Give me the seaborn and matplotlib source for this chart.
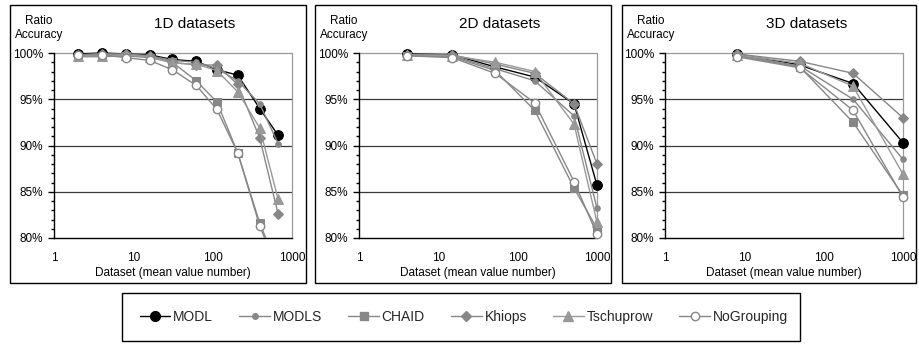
import matplotlib
matplotlib.use("Agg")
import matplotlib.pyplot as plt
import seaborn as sns
import pandas as pd
from matplotlib.patches import Rectangle
from matplotlib.lines import Line2D
from matplotlib.ticker import FixedLocator, MultipleLocator, FuncFormatter, NullLocator
from matplotlib.transforms import Bbox, TransformedBbox

sns.set_theme(style="white")
plt.rcParams["font.family"] = ["Liberation Sans", "DejaVu Sans"]

# ---------------- data ----------------
methods = ["MODL", "MODLS", "CHAID", "Khiops", "Tschuprow", "NoGrouping"]
panel_titles = ["1D datasets", "2D datasets", "3D datasets"]

x_1d = [2, 4, 8, 16, 31, 62, 113, 207, 392, 668]
modl_1d = [99.9, 100.0, 99.9, 99.8, 99.3, 99.1, 98.2, 97.6, 94.0, 91.1]
modls_1d = [99.8, 99.9, 99.8, 99.7, 99.2, 99.0, 98.3, 97.0, 94.5, 90.2]
chaid_1d = [99.6, 99.6, 99.7, 99.5, 99.0, 97.0, 94.7, 89.2, 81.6, 76.8]
khiops_1d = [99.8, 99.9, 99.9, 99.7, 99.0, 98.7, 98.7, 96.6, 90.8, 82.6]
tschuprow_1d = [99.7, 99.7, 99.8, 99.6, 98.9, 98.8, 98.1, 95.8, 91.9, 84.2]
nogrouping_1d = [99.8, 99.8, 99.5, 99.2, 98.2, 96.5, 93.9, 89.2, 81.3, 76.4]

x_2d = [4, 15, 52, 164, 514, 1000]
modl_2d = [99.9, 99.8, 98.5, 97.4, 94.5, 85.7]
modls_2d = [99.8, 99.7, 98.3, 97.0, 93.2, 83.2]
chaid_2d = [99.7, 99.6, 98.1, 93.8, 85.4, 81.0]
khiops_2d = [99.8, 99.8, 98.8, 97.8, 94.5, 88.0]
tschuprow_2d = [99.8, 99.7, 99.0, 98.0, 92.3, 81.7]
nogrouping_2d = [99.7, 99.5, 97.8, 94.6, 86.1, 80.4]

x_3d = [8, 50, 235, 1000]
modl_3d = [99.9, 98.7, 96.7, 90.3]
modls_3d = [99.8, 98.6, 95.0, 88.5]
chaid_3d = [99.7, 98.5, 92.5, 84.6]
khiops_3d = [99.9, 99.1, 97.8, 93.0]
tschuprow_3d = [99.8, 98.9, 96.4, 86.9]
nogrouping_3d = [99.6, 98.4, 93.8, 84.4]

panels = [
    (x_1d, [modl_1d, modls_1d, chaid_1d, khiops_1d, tschuprow_1d, nogrouping_1d]),
    (x_2d, [modl_2d, modls_2d, chaid_2d, khiops_2d, tschuprow_2d, nogrouping_2d]),
    (x_3d, [modl_3d, modls_3d, chaid_3d, khiops_3d, tschuprow_3d, nogrouping_3d]),
]

# ---------------- styles ----------------
GRAY = "#878787"
styles = {
    "MODL": dict(color="black", marker="o", markersize=7.0, markerfacecolor="black",
                 markeredgecolor="black", linewidth=1.0),
    "MODLS": dict(color=GRAY, marker="o", markersize=4.0, markerfacecolor=GRAY,
                  markeredgecolor=GRAY, linewidth=1.0),
    "CHAID": dict(color=GRAY, marker="s", markersize=5.5, markerfacecolor=GRAY,
                  markeredgecolor=GRAY, linewidth=1.0),
    "Khiops": dict(color=GRAY, marker="D", markersize=5.0, markerfacecolor=GRAY,
                   markeredgecolor=GRAY, linewidth=1.0),
    "Tschuprow": dict(color="#999999", marker="^", markersize=6.5, markerfacecolor="#999999",
                      markeredgecolor="#999999", linewidth=1.0),
    "NoGrouping": dict(color=GRAY, marker="o", markersize=6.0, markerfacecolor="white",
                       markeredgecolor=GRAY, markeredgewidth=1.0, linewidth=1.0),
}

W, H = 920, 347
fig = plt.figure(figsize=(W / 100, H / 100), dpi=100)

axes_px = [(54, 292), (359, 597), (665, 903)]
box_px = [(10, 306), (315, 611), (622, 916)]
ytop_px, ybot_px = 53, 238

for i, ((xs, series), (l, r), (bl, br)) in enumerate(zip(panels, axes_px, box_px)):
    # panel frame
    fig.patches.append(Rectangle((bl / W, 1 - 283 / H), (br - bl) / W, (283 - 5) / H,
                                 transform=fig.transFigure, fill=False,
                                 edgecolor="black", linewidth=1.0))
    ax = fig.add_axes([l / W, 1 - ybot_px / H, (r - l) / W, (ybot_px - ytop_px) / H])
    ax.set_facecolor("white")
    ax.set_xscale("log")
    ax.set_xlim(1, 1000)
    ax.set_ylim(80, 100)

    # gridlines
    for g in [85, 90, 95]:
        ax.axhline(g, color="#3a3a3a", linewidth=0.9, zorder=1)
    ax.axhline(100, color="#999999", linewidth=0.9, zorder=1, clip_on=False)
    ax.axvline(1000, color="#999999", linewidth=0.9, zorder=1, clip_on=False)

    clipbox = TransformedBbox(Bbox([[-0.1, 0.0], [1.1, 1.15]]), ax.transAxes)
    for k, (name, ys) in enumerate(zip(methods, series)):
        df = pd.DataFrame({"x": xs, "y": ys})
        n_before = len(ax.lines)
        sns.lineplot(data=df, x="x", y="y", ax=ax, sort=False, estimator=None,
                     zorder=3 + k, **styles[name])
        for ln in ax.lines[n_before:]:
            ln.set_clip_on(True)
            ln.set_clip_box(clipbox)

    for s in ["top", "right"]:
        ax.spines[s].set_visible(False)
    for s in ["left", "bottom"]:
        ax.spines[s].set_color("black")
        ax.spines[s].set_linewidth(1.0)
        ax.spines[s].set_zorder(2)

    ax.xaxis.set_major_locator(FixedLocator([1, 10, 100, 1000]))
    ax.xaxis.set_minor_locator(NullLocator())
    ax.xaxis.set_major_formatter(FuncFormatter(lambda v, p: f"{int(round(v))}"))
    ax.yaxis.set_major_locator(MultipleLocator(5))
    ax.yaxis.set_minor_locator(MultipleLocator(1))
    ax.yaxis.set_major_formatter(FuncFormatter(lambda v, p: f"{int(round(v))}%"))
    ax.tick_params(axis="x", which="major", direction="in", length=4, width=1,
                   color="black", labelsize=8.5, pad=10, labelcolor="black")
    ax.tick_params(axis="y", which="major", direction="out", length=4, width=1,
                   color="black", labelsize=8.5, pad=4, labelcolor="black", left=True)
    ax.tick_params(axis="y", which="minor", direction="out", length=2.5, width=1,
                   color="black", left=True)
    ax.set_xlabel("Dataset (mean value number)", fontsize=8.5, labelpad=2.5, color="black")
    ax.set_ylabel("")

    # titles and y label
    fig.text((bl + 185) / W, 1 - 24 / H, panel_titles[i], ha="center", va="center",
             fontsize=11, color="black")
    fig.text((bl + 29) / W, 1 - 28 / H, "Ratio\nAccuracy", ha="center", va="center",
             multialignment="center", fontsize=8.5, color="black", linespacing=1.25)

# legend frame
fig.patches.append(Rectangle((122 / W, 1 - 341 / H), (800 - 122) / W, (341 - 293) / H,
                             transform=fig.transFigure, fill=False,
                             edgecolor="black", linewidth=1.0))
handles = [Line2D([0], [0], **styles[m]) for m in methods]
fig.legend(handles, methods, loc="center left", bbox_to_anchor=(134 / W, 1 - 317 / H),
           ncol=6, frameon=False, fontsize=10, handlelength=2.2, handletextpad=0.2,
           columnspacing=1.9, borderaxespad=0)

fig.savefig("out.png", dpi=100, facecolor="white")
